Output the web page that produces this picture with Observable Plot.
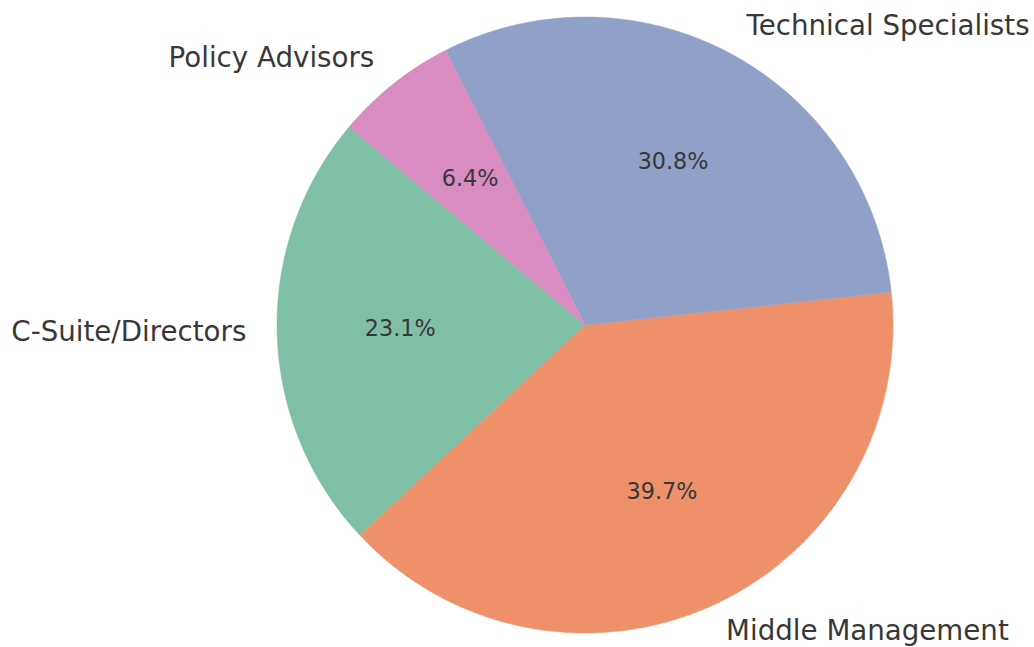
<!DOCTYPE html>
<html>
<head>
<meta charset="utf-8">
<script src="https://cdn.jsdelivr.net/npm/d3@7"></script>
<script src="https://cdn.jsdelivr.net/npm/@observablehq/plot@0.6"></script>
<style>
  html, body { margin: 0; padding: 0; background: #fff; }
  svg { display: block; }
</style>
</head>
<body>
<div id="chart"></div>
<script>
const categories = ["C-Suite/Directors", "Middle Management", "Technical Specialists", "Policy Advisors"];
const counts = [18, 31, 24, 5];
const colors = ["#7fbfa6", "#ee916b", "#91a0c8", "#d98cbf"];
const startAngle = 140; // degrees, counterclockwise like matplotlib

const total = d3.sum(counts);
const rad = Math.PI / 180;
const slices = [];
let a0 = startAngle;
categories.forEach((cat, i) => {
  const sweep = counts[i] / total * 360;
  slices.push({cat, a0, a1: a0 + sweep, pct: counts[i] / total * 100});
  a0 += sweep;
});

// polygon outline points for each wedge
const points = [];
for (const s of slices) {
  points.push({cat: s.cat, x: 0, y: 0});
  const n = Math.max(2, Math.ceil((s.a1 - s.a0) / 0.5));
  for (let k = 0; k <= n; k++) {
    const a = (s.a0 + (s.a1 - s.a0) * k / n) * rad;
    points.push({cat: s.cat, x: Math.cos(a), y: Math.sin(a)});
  }
  points.push({cat: s.cat, x: 0, y: 0});
}

const labels = slices.map(s => {
  const m = (s.a0 + s.a1) / 2 * rad;
  return {
    cat: s.cat,
    x: 1.1 * Math.cos(m), y: 1.1 * Math.sin(m),
    px: 0.6 * Math.cos(m), py: 0.6 * Math.sin(m),
    pct: s.pct.toFixed(1) + "%",
    right: Math.cos(m) >= 0
  };
});

const font = "DejaVu Sans";
const chart = Plot.plot({
  width: 1034,
  height: 647,
  margin: 0,
  style: {background: "#fff"},
  x: {domain: [-1, 1], range: [276.5, 892.5], axis: null},
  y: {domain: [-1, 1], range: [632.5, 16.5], axis: null},
  color: {domain: categories, range: colors},
  marks: [
    Plot.line(points, {x: "x", y: "y", z: "cat", fill: "cat", stroke: "cat", strokeWidth: 0.5, curve: "linear"}),
    Plot.text(labels.filter(d => d.right), {x: "x", y: "y", text: "cat", textAnchor: "start", dy: -1.5, fontSize: 27.7, fontFamily: font, fill: "#383838"}),
    Plot.text(labels.filter(d => !d.right), {x: "x", y: "y", text: "cat", textAnchor: "end", dy: -1.5, fontSize: 27.7, fontFamily: font, fill: "#383838"}),
    Plot.text(labels, {x: "px", y: "py", text: "pct", dy: -1, fontSize: 22.3, fontFamily: font, fill: "#383838"})
  ]
});
document.getElementById("chart").appendChild(chart);
</script>
</body>
</html>
